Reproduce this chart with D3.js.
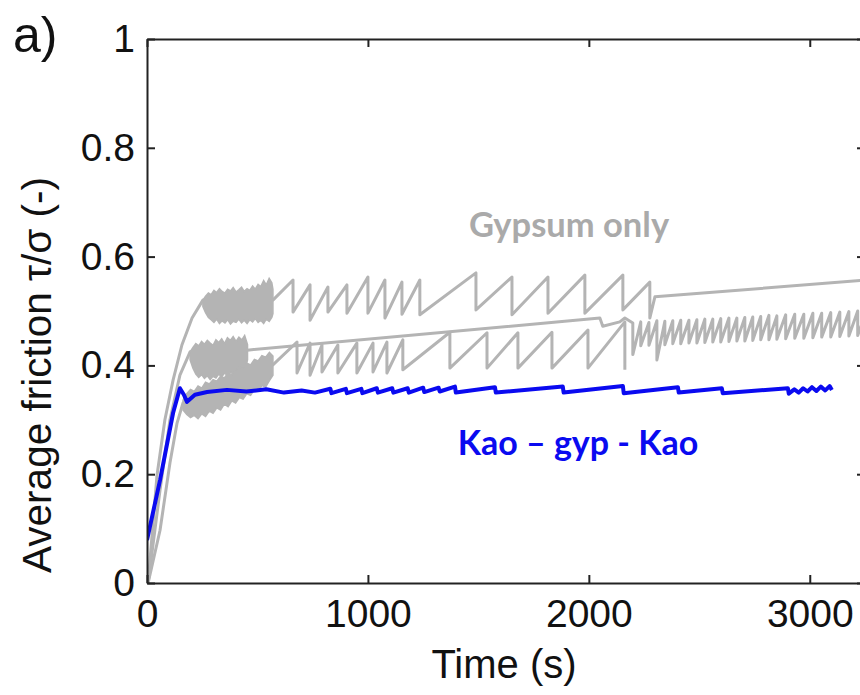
<!DOCTYPE html>
<html><head><meta charset="utf-8">
<script src="https://cdn.jsdelivr.net/npm/d3@7"></script>
<style>body{margin:0;background:#fff}svg{display:block}</style>
</head><body>
<svg id="chart" width="860" height="695"></svg>
<script>
// ---------- axis ticks ----------
const xTicks = [0, 1000, 2000, 3000];
const xTickLabels = ["0", "1000", "2000", "3000"];
const yTicks = [0, 0.2, 0.4, 0.6, 0.8, 1];
const yTickLabels = ["0", "0.2", "0.4", "0.6", "0.8", "1"];

// ---------- Gypsum only : run A (upper) ----------
const gypA_rampT = [5, 45, 81, 118, 158, 204, 253];
const gypA_rampV = [0, 0.197, 0.300, 0.373, 0.4375, 0.487, 0.520];
const gypA_bandT  = [253, 265, 278, 290, 303, 315, 328, 340, 353, 365, 378, 390, 403, 415, 428, 440, 453, 465, 478, 490, 503, 515, 528, 540, 553, 565, 570];
const gypA_bandHi = [0.520, 0.527, 0.533, 0.530, 0.538, 0.534, 0.541, 0.536, 0.533, 0.540, 0.537, 0.543, 0.535, 0.539, 0.544, 0.536, 0.541, 0.538, 0.546, 0.540, 0.549, 0.545, 0.556, 0.548, 0.560, 0.552, 0.540];
const gypA_bandLo = [0.508, 0.497, 0.488, 0.484, 0.479, 0.485, 0.477, 0.482, 0.478, 0.484, 0.476, 0.481, 0.479, 0.485, 0.478, 0.483, 0.477, 0.484, 0.480, 0.486, 0.479, 0.483, 0.477, 0.485, 0.481, 0.488, 0.495];
const gypA_startT = 570, gypA_startV = 0.520;
const gypA_dropT   = [661, 738, 819, 905, 1000, 1077, 1154, 1235, 1489, 1652, 1815, 1982, 2154, 2276];
const gypA_peakV   = [0.557, 0.548, 0.544, 0.548, 0.5625, 0.557, 0.553, 0.557, 0.570, 0.5625, 0.5625, 0.566, 0.566, 0.553];
const gypA_troughV = [0.498, 0.483, 0.498, 0.496, 0.496, 0.487, 0.494, 0.493, 0.502, 0.493, 0.496, 0.496, 0.502, 0.487];
const gypA_tailT = [2299, 3260];
const gypA_tailV = [0.526, 0.557];

// ---------- Gypsum only : run B (middle) ----------
const gypB_rampT = [5, 59, 104, 149, 195];
const gypB_rampV = [0, 0.171, 0.300, 0.382, 0.425];
const gypB_bandT  = [195, 208, 221, 234, 247, 260, 273, 286, 299, 312, 325, 338, 351, 364, 377, 390, 403, 416, 429, 442, 455];
const gypB_bandHi = [0.425, 0.433, 0.440, 0.436, 0.444, 0.439, 0.446, 0.441, 0.437, 0.447, 0.442, 0.449, 0.440, 0.451, 0.446, 0.453, 0.444, 0.452, 0.447, 0.455, 0.438];
const gypB_bandLo = [0.410, 0.395, 0.384, 0.378, 0.383, 0.376, 0.381, 0.374, 0.380, 0.377, 0.384, 0.379, 0.386, 0.381, 0.388, 0.384, 0.391, 0.386, 0.393, 0.390, 0.410];
const gypB_lineT = [453, 2050, 2063, 2140, 2163];
const gypB_lineV = [0.428, 0.487, 0.472, 0.480, 0.487];
const gypB_dropT   = [2199, 2235, 2272, 2308, 2344, 2380, 2416, 2453, 2489, 2525, 2561, 2597, 2634, 2670, 2706, 2742, 2778, 2815, 2851, 2891, 2932, 2973, 3014, 3054, 3095, 3136, 3177, 3217, 3258];
const gypB_peakV   = [0.478, 0.480, 0.479, 0.482, 0.481, 0.482, 0.483, 0.483, 0.484, 0.485, 0.485, 0.486, 0.487, 0.487, 0.488, 0.489, 0.490, 0.492, 0.491, 0.493, 0.494, 0.494, 0.496, 0.496, 0.497, 0.498, 0.499, 0.500, 0.501];
const gypB_troughV = [0.420, 0.436, 0.437, 0.410, 0.438, 0.440, 0.440, 0.441, 0.441, 0.442, 0.443, 0.443, 0.444, 0.445, 0.445, 0.446, 0.447, 0.447, 0.448, 0.449, 0.450, 0.450, 0.451, 0.452, 0.452, 0.453, 0.454, 0.455, 0.455];

// ---------- Gypsum only : run C (lower) ----------
const gypC_rampT = [5, 59, 104, 136, 163];
const gypC_rampV = [0, 0.097, 0.221, 0.294, 0.331];
const gypC_bandT  = [163, 180, 197, 214, 231, 248, 265, 282, 299, 316, 333, 350, 367, 384, 401, 418, 435, 452, 469, 486, 503, 520, 537, 554, 570];
const gypC_bandHi = [0.336, 0.348, 0.356, 0.352, 0.362, 0.358, 0.369, 0.366, 0.374, 0.371, 0.380, 0.377, 0.386, 0.383, 0.392, 0.397, 0.394, 0.404, 0.401, 0.411, 0.408, 0.418, 0.415, 0.424, 0.417];
const gypC_bandLo = [0.318, 0.310, 0.304, 0.308, 0.302, 0.311, 0.306, 0.316, 0.312, 0.322, 0.318, 0.329, 0.324, 0.335, 0.331, 0.341, 0.338, 0.348, 0.345, 0.356, 0.353, 0.363, 0.360, 0.372, 0.382];
const gypC_startT = 570, gypC_startV = 0.401;
const gypC_dropT   = [679, 738, 792, 864, 950, 1023, 1086, 1158, 1371, 1539, 1679, 1833, 1996, 2163];
const gypC_peakV   = [0.443, 0.441, 0.4375, 0.4375, 0.441, 0.441, 0.443, 0.447, 0.461, 0.460, 0.460, 0.461, 0.465, 0.480];
const gypC_troughV = [0.386, 0.382, 0.388, 0.386, 0.386, 0.388, 0.386, 0.392, 0.395, 0.395, 0.395, 0.395, 0.395, 0.392];

// ---------- Kao – gyp – Kao ----------
const kaoT = [0, 59, 118, 149, 167, 181, 217, 272, 362, 450, 540, 620, 700, 760,
  830, 835, 900, 905, 970, 975, 1040, 1045, 1110, 1115, 1180, 1185, 1250, 1255, 1320, 1325,
  1394, 1398, 1575, 1579, 1882, 1886, 2154, 2158, 2403, 2407, 2602, 2606, 2901, 2905,
  2930, 2950, 2970, 2990, 3010, 3030, 3050, 3070, 3090, 3100];
const kaoV = [0.079, 0.189, 0.3125, 0.358, 0.346, 0.333, 0.346, 0.351, 0.355, 0.352, 0.356, 0.350, 0.354, 0.350,
  0.357, 0.349, 0.357, 0.349, 0.357, 0.349, 0.358, 0.350, 0.358, 0.350, 0.358, 0.350, 0.359, 0.351, 0.359, 0.352,
  0.361, 0.350, 0.360, 0.350, 0.361, 0.350, 0.362, 0.349, 0.360, 0.350, 0.358, 0.349, 0.358, 0.348,
  0.356, 0.350, 0.358, 0.352, 0.360, 0.353, 0.361, 0.354, 0.362, 0.355];

// ---------- layout ----------
const L = 147, R = 865, T = 39, B = 583;
const GRAY = "#b4b4b4", BLUE = "#0a0af0";

const svg = d3.select("#chart");
const x = d3.scaleLinear().domain([0, 3250]).range([L, R]);
const y = d3.scaleLinear().domain([0, 1]).range([B, T]);

svg.append("defs").append("clipPath").attr("id", "clip")
  .append("rect").attr("x", L).attr("y", T).attr("width", R - L).attr("height", B - T);

const zip = (ts, vs) => ts.map((t, i) => [t, vs[i]]);
const teeth = (ts, pk, tr) => ts.flatMap((t, i) => [[t, pk[i]], [t, tr[i]]]);

const line = d3.line().x(d => x(d[0])).y(d => y(d[1]));
const area = d3.area().x(d => x(d.t)).y0(d => y(d.lo)).y1(d => y(d.hi));
const bandData = (ts, hi, lo) => ts.map((t, i) => ({t, hi: hi[i], lo: lo[i]}));

const g = svg.append("g").attr("clip-path", "url(#clip)");

const seriesA = [...zip(gypA_rampT, gypA_rampV), [gypA_startT, gypA_startV],
  ...teeth(gypA_dropT, gypA_peakV, gypA_troughV), ...zip(gypA_tailT, gypA_tailV)];
const seriesB = [...zip(gypB_rampT, gypB_rampV), ...zip(gypB_lineT, gypB_lineV),
  ...teeth(gypB_dropT, gypB_peakV, gypB_troughV)];
const seriesC = [...zip(gypC_rampT, gypC_rampV), [gypC_startT, gypC_startV],
  ...teeth(gypC_dropT, gypC_peakV, gypC_troughV)];

[seriesA, seriesB, seriesC].forEach(s => {
  g.append("path").datum(s).attr("d", line)
    .attr("fill", "none").attr("stroke", GRAY).attr("stroke-width", 3)
    .attr("stroke-linejoin", "round");
});
[[gypA_bandT, gypA_bandHi, gypA_bandLo], [gypB_bandT, gypB_bandHi, gypB_bandLo], [gypC_bandT, gypC_bandHi, gypC_bandLo]]
  .forEach(([t, hi, lo]) => {
    g.append("path").datum(bandData(t, hi, lo)).attr("d", area)
      .attr("fill", GRAY).attr("stroke", GRAY).attr("stroke-width", 1.5)
      .attr("stroke-linejoin", "miter");
  });

g.append("path").datum(zip(kaoT, kaoV)).attr("d", line)
  .attr("fill", "none").attr("stroke", BLUE).attr("stroke-width", 4)
  .attr("stroke-linejoin", "round");

// ---------- axes ----------
const tickFont = "Liberation Sans, Arial, sans-serif";
const axB = svg.append("g").attr("transform", `translate(0,${B})`)
  .call(d3.axisBottom(x).tickValues(xTicks).tickFormat((d, i) => xTickLabels[i]).tickSizeInner(-8).tickSizeOuter(0).tickPadding(16));
const axL = svg.append("g").attr("transform", `translate(${L},0)`)
  .call(d3.axisLeft(y).tickValues(yTicks).tickFormat((d, i) => yTickLabels[i]).tickSizeInner(-8).tickSizeOuter(0).tickPadding(12));
const axT = svg.append("g").attr("transform", `translate(0,${T})`)
  .call(d3.axisTop(x).tickValues(xTicks).tickFormat("").tickSizeInner(-8).tickSizeOuter(0));
const axR = svg.append("g").attr("transform", `translate(${R},0)`)
  .call(d3.axisRight(y).tickValues(yTicks).tickFormat("").tickSizeInner(-8).tickSizeOuter(0));
[axB, axL, axT, axR].forEach(a => {
  a.select(".domain").attr("stroke", "#222").attr("stroke-width", 2);
  a.selectAll(".tick line").attr("stroke", "#222").attr("stroke-width", 2);
  a.selectAll(".tick text").attr("fill", "#111").style("font-family", tickFont).style("font-size", "39px");
});

// ---------- titles ----------
svg.append("text").attr("x", 504).attr("y", 678).attr("text-anchor", "middle")
  .style("font-family", tickFont).style("font-size", "40px").attr("fill", "#111").text("Time (s)");
svg.append("text").attr("transform", "translate(51,375) rotate(-90)").attr("text-anchor", "middle")
  .style("font-family", tickFont).style("font-size", "40.5px").attr("fill", "#111").text("Average friction τ/σ (-)");
svg.append("text").attr("x", 13).attr("y", 52)
  .style("font-family", tickFont).style("font-size", "50px").attr("fill", "#111").text("a)");

// ---------- annotations ----------
svg.append("text").attr("x", 569).attr("y", 237).attr("text-anchor", "middle")
  .style("font-family", "Lato, 'Open Sans', sans-serif").style("font-weight", 700).style("font-size", "34.5px")
  .attr("fill", "#aaaaaa").text("Gypsum only");
svg.append("text").attr("x", 578).attr("y", 455).attr("text-anchor", "middle")
  .style("font-family", "Lato, 'Open Sans', sans-serif").style("font-weight", 700).style("font-size", "34px")
  .attr("fill", "#0a0af0").text("Kao – gyp - Kao");
</script>
</body></html>
